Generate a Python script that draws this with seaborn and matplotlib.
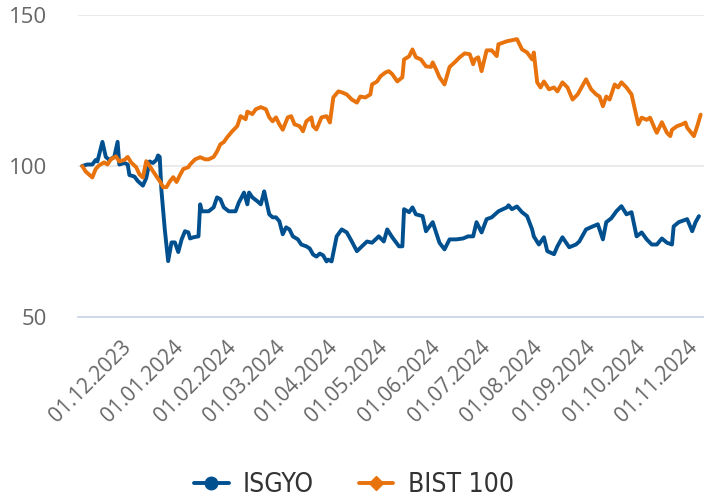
import pandas as pd
import seaborn as sns
import matplotlib.pyplot as plt
import matplotlib.dates as mdates
from matplotlib.lines import Line2D

# ISGYO vs BIST 100, rebased to 100
isgyo_dates = [
    "2023-11-08", "2023-11-11", "2023-11-14", "2023-11-16", "2023-11-17", "2023-11-20",
    "2023-11-22", "2023-11-24", "2023-11-27", "2023-11-29", "2023-11-30", "2023-12-03",
    "2023-12-05", "2023-12-06", "2023-12-09", "2023-12-11", "2023-12-14", "2023-12-16",
    "2023-12-18", "2023-12-20", "2023-12-22", "2023-12-23", "2023-12-24", "2023-12-25",
    "2023-12-27", "2023-12-29", "2023-12-31", "2024-01-02", "2024-01-04", "2024-01-06",
    "2024-01-08", "2024-01-10", "2024-01-11", "2024-01-13", "2024-01-16", "2024-01-17",
    "2024-01-18", "2024-01-22", "2024-01-25", "2024-01-27", "2024-01-29", "2024-01-31",
    "2024-02-03", "2024-02-07", "2024-02-09", "2024-02-10", "2024-02-12", "2024-02-14",
    "2024-02-15", "2024-02-17", "2024-02-20", "2024-02-22", "2024-02-24", "2024-02-25",
    "2024-02-27", "2024-02-29", "2024-03-02", "2024-03-04", "2024-03-06", "2024-03-08",
    "2024-03-10", "2024-03-12", "2024-03-15", "2024-03-17", "2024-03-20", "2024-03-22",
    "2024-03-24", "2024-03-26", "2024-03-28", "2024-03-30", "2024-04-01", "2024-04-02",
    "2024-04-04", "2024-04-07", "2024-04-10", "2024-04-13", "2024-04-16", "2024-04-19",
    "2024-04-22", "2024-04-25", "2024-04-28", "2024-05-02", "2024-05-05", "2024-05-07",
    "2024-05-10", "2024-05-14", "2024-05-16", "2024-05-17", "2024-05-20", "2024-05-22",
    "2024-05-24", "2024-05-28", "2024-05-30", "2024-06-03", "2024-06-05", "2024-06-07",
    "2024-06-10", "2024-06-13", "2024-06-17", "2024-06-21", "2024-06-24", "2024-06-27",
    "2024-06-29", "2024-07-02", "2024-07-05", "2024-07-08", "2024-07-12", "2024-07-17",
    "2024-07-18", "2024-07-20", "2024-07-23", "2024-07-26", "2024-07-29", "2024-08-01",
    "2024-08-02", "2024-08-05", "2024-08-08", "2024-08-10", "2024-08-14", "2024-08-16",
    "2024-08-19", "2024-08-23", "2024-08-27", "2024-08-29", "2024-09-02", "2024-09-06",
    "2024-09-09", "2024-09-12", "2024-09-14", "2024-09-17", "2024-09-20", "2024-09-23",
    "2024-09-26", "2024-09-29", "2024-10-02", "2024-10-05", "2024-10-08", "2024-10-11",
    "2024-10-14", "2024-10-17", "2024-10-20", "2024-10-23", "2024-10-24", "2024-10-27",
    "2024-11-01", "2024-11-04", "2024-11-06", "2024-11-08",
]
isgyo_values = [
    100, 100.5, 100.5, 102, 101.5, 108,
    103, 102, 103, 108, 100.5, 101,
    100.5, 97, 96.5, 95, 93.5, 96,
    101.5, 101, 102, 103.5, 103, 92,
    79, 68.5, 74.7, 74.7, 71.5, 75.7,
    78.4, 78, 76, 76.4, 76.7, 87.3,
    85, 85, 86.3, 89.6, 89, 86.3,
    85, 85, 88, 89, 91.2, 87.3,
    91.2, 89.6, 88.3, 87.3, 91.6, 89,
    84, 83, 83, 81.7, 77.4, 79.7,
    79, 76.7, 75.7, 74, 73.4, 72.7,
    70.7, 70, 71, 70.4, 68.4, 69,
    68.4, 76.7, 79, 78, 75, 71.8,
    73.4, 75, 74.6, 76.7, 75, 79,
    76.4, 73.4, 73.4, 85.7, 84.7, 86.3,
    84, 83.4, 78.4, 81.4, 78, 74.6,
    72.4, 75.7, 75.7, 76, 76.7, 76.7,
    81.4, 78, 82.4, 83, 85, 86.3,
    87, 85.7, 86.6, 84.7, 83.4, 79,
    76.7, 74, 76.4, 71.8, 70.8, 73.4,
    76.4, 73.1, 74, 75, 79, 80,
    80.7, 75.7, 81.4, 82.7, 85, 86.7,
    84, 84.7, 76.7, 78, 75.7, 74,
    74, 76, 74.6, 74, 80, 81.4,
    82.4, 78.4, 81.4, 83.4,
]

bist_dates = [
    "2023-11-08", "2023-11-10", "2023-11-14", "2023-11-16", "2023-11-18", "2023-11-21",
    "2023-11-23", "2023-11-25", "2023-11-28", "2023-11-30", "2023-12-03", "2023-12-05",
    "2023-12-07", "2023-12-10", "2023-12-12", "2023-12-14", "2023-12-16", "2023-12-18",
    "2023-12-20", "2023-12-22", "2023-12-24", "2023-12-26", "2023-12-28", "2023-12-30",
    "2024-01-01", "2024-01-03", "2024-01-05", "2024-01-07", "2024-01-10", "2024-01-11",
    "2024-01-14", "2024-01-17", "2024-01-20", "2024-01-22", "2024-01-25", "2024-01-27",
    "2024-01-29", "2024-01-31", "2024-02-02", "2024-02-05", "2024-02-08", "2024-02-10",
    "2024-02-13", "2024-02-14", "2024-02-17", "2024-02-19", "2024-02-22", "2024-02-25",
    "2024-02-27", "2024-02-29", "2024-03-02", "2024-03-04", "2024-03-06", "2024-03-09",
    "2024-03-11", "2024-03-13", "2024-03-16", "2024-03-18", "2024-03-20", "2024-03-23",
    "2024-03-24", "2024-03-26", "2024-03-29", "2024-04-01", "2024-04-03", "2024-04-05",
    "2024-04-08", "2024-04-10", "2024-04-13", "2024-04-16", "2024-04-19", "2024-04-21",
    "2024-04-24", "2024-04-27", "2024-04-28", "2024-05-01", "2024-05-03", "2024-05-06",
    "2024-05-08", "2024-05-10", "2024-05-13", "2024-05-16", "2024-05-17", "2024-05-20",
    "2024-05-22", "2024-05-24", "2024-05-27", "2024-05-30", "2024-06-02", "2024-06-03",
    "2024-06-05", "2024-06-07", "2024-06-10", "2024-06-13", "2024-06-16", "2024-06-19",
    "2024-06-22", "2024-06-25", "2024-06-27", "2024-06-28", "2024-06-30", "2024-07-02",
    "2024-07-05", "2024-07-08", "2024-07-11", "2024-07-12", "2024-07-17", "2024-07-23",
    "2024-07-26", "2024-07-29", "2024-08-01", "2024-08-02", "2024-08-04", "2024-08-06",
    "2024-08-08", "2024-08-11", "2024-08-14", "2024-08-16", "2024-08-19", "2024-08-22",
    "2024-08-25", "2024-08-28", "2024-09-02", "2024-09-05", "2024-09-08", "2024-09-10",
    "2024-09-12", "2024-09-14", "2024-09-16", "2024-09-19", "2024-09-21", "2024-09-23",
    "2024-09-26", "2024-09-29", "2024-10-03", "2024-10-05", "2024-10-08", "2024-10-10",
    "2024-10-13", "2024-10-14", "2024-10-17", "2024-10-20", "2024-10-22", "2024-10-23",
    "2024-10-26", "2024-10-29", "2024-10-31", "2024-11-01", "2024-11-05", "2024-11-07",
    "2024-11-09",
]
bist_values = [
    100, 98.2, 96.2, 99, 100.2, 101.2,
    100.5, 102.2, 103.2, 101.5, 102, 103,
    101.2, 99.6, 97.2, 96.2, 101.6, 100,
    98.3, 96.6, 95, 93, 93, 94.9,
    96.3, 94.7, 97, 99, 99.6, 100.5,
    102.2, 102.9, 102.2, 102.2, 103, 104.8,
    107.2, 107.9, 109.5, 111.5, 113.2, 116.5,
    115.5, 118, 117.2, 118.8, 119.5, 118.8,
    116.1, 114.8, 116.1, 113.8, 112, 116.1,
    116.5, 113.8, 113.2, 111.5, 114.8, 116.1,
    113.2, 112.1, 116.1, 116.5, 114.4, 122.7,
    124.7, 124.4, 123.7, 122, 121, 123,
    122.7, 123.7, 127, 128, 129.7, 131,
    131.4, 130.4, 128, 129.4, 135.3, 136.3,
    138.6, 136, 135.3, 133, 132.8, 134.3,
    132, 129.4, 127, 132.8, 134.3, 136,
    137.3, 137, 133.7, 135.3, 136, 131.4,
    138.3, 138.3, 136.4, 140.3, 141.3, 142,
    138.6, 137.6, 135.3, 137.6, 127.7, 126,
    128, 125.4, 126, 124.7, 127.7, 126,
    122, 123.7, 128.7, 125.4, 123.7, 123,
    119.8, 123, 122, 127, 126, 127.7,
    126, 123.7, 113.8, 116, 115.3, 116,
    112.1, 111, 114.5, 111, 109.9, 112,
    113.2, 113.8, 114.4, 112.7, 109.9, 113.2,
    117,
]

series_names = ["ISGYO", "BIST 100"]
series_colors = ["#00508f", "#e8720c"]
month_ticks = pd.date_range("2023-12-01", "2024-11-01", freq="MS")

df = pd.concat([
    pd.DataFrame({"date": pd.to_datetime(isgyo_dates), "value": isgyo_values, "series": series_names[0]}),
    pd.DataFrame({"date": pd.to_datetime(bist_dates), "value": bist_values, "series": series_names[1]}),
])

sns.set_theme(style="white")
plt.rcParams["font.family"] = ["Open Sans", "DejaVu Sans"]

fig = plt.figure(figsize=(7.04, 4.99), dpi=100)
ax = fig.add_axes([78 / 704, 182 / 499, 626 / 704, 302 / 499])

sns.lineplot(data=df, x="date", y="value", hue="series", hue_order=series_names,
             palette=series_colors, linewidth=2.8, ax=ax, legend=False)

ax.set_ylim(50, 150)
ax.set_yticks([50, 100, 150])
ax.set_xlim(pd.Timestamp("2023-11-05 12:00"), pd.Timestamp("2024-11-11"))
ax.set_xticks(month_ticks)
ax.xaxis.set_major_formatter(mdates.DateFormatter("%d.%m.%Y"))

for v in [100, 150]:
    ax.axhline(v, color="#e6e6e6", linewidth=1.2, zorder=0)
for s in ["top", "right", "left"]:
    ax.spines[s].set_visible(False)
ax.spines["bottom"].set_color("#ccd6eb")
ax.spines["bottom"].set_linewidth(1.3)

ax.tick_params(axis="x", which="major", direction="out", length=10, width=1.2,
               color="#ccd6eb", pad=4, labelsize=15, labelcolor="#666666")
ax.tick_params(axis="y", length=0, pad=22, labelsize=16, labelcolor="#666666")
plt.setp(ax.get_xticklabels(), rotation=45, ha="right", va="top", rotation_mode="anchor")
ax.set_xlabel("")
ax.set_ylabel("")

handles = [
    Line2D([], [], color=series_colors[0], linewidth=2.8, marker="o", markersize=9),
    Line2D([], [], color=series_colors[1], linewidth=2.8, marker="D", markersize=7.5),
]
leg = fig.legend(handles, series_names, loc="center", bbox_to_anchor=(0.503, 14 / 499), ncol=2,
                 frameon=False, handlelength=1.3, columnspacing=1.7, handletextpad=0.55,
                 prop={"family": "DejaVu Sans", "stretch": "condensed", "size": 19})
for t in leg.get_texts():
    t.set_color("#333333")

fig.savefig("out.png", dpi=100)
